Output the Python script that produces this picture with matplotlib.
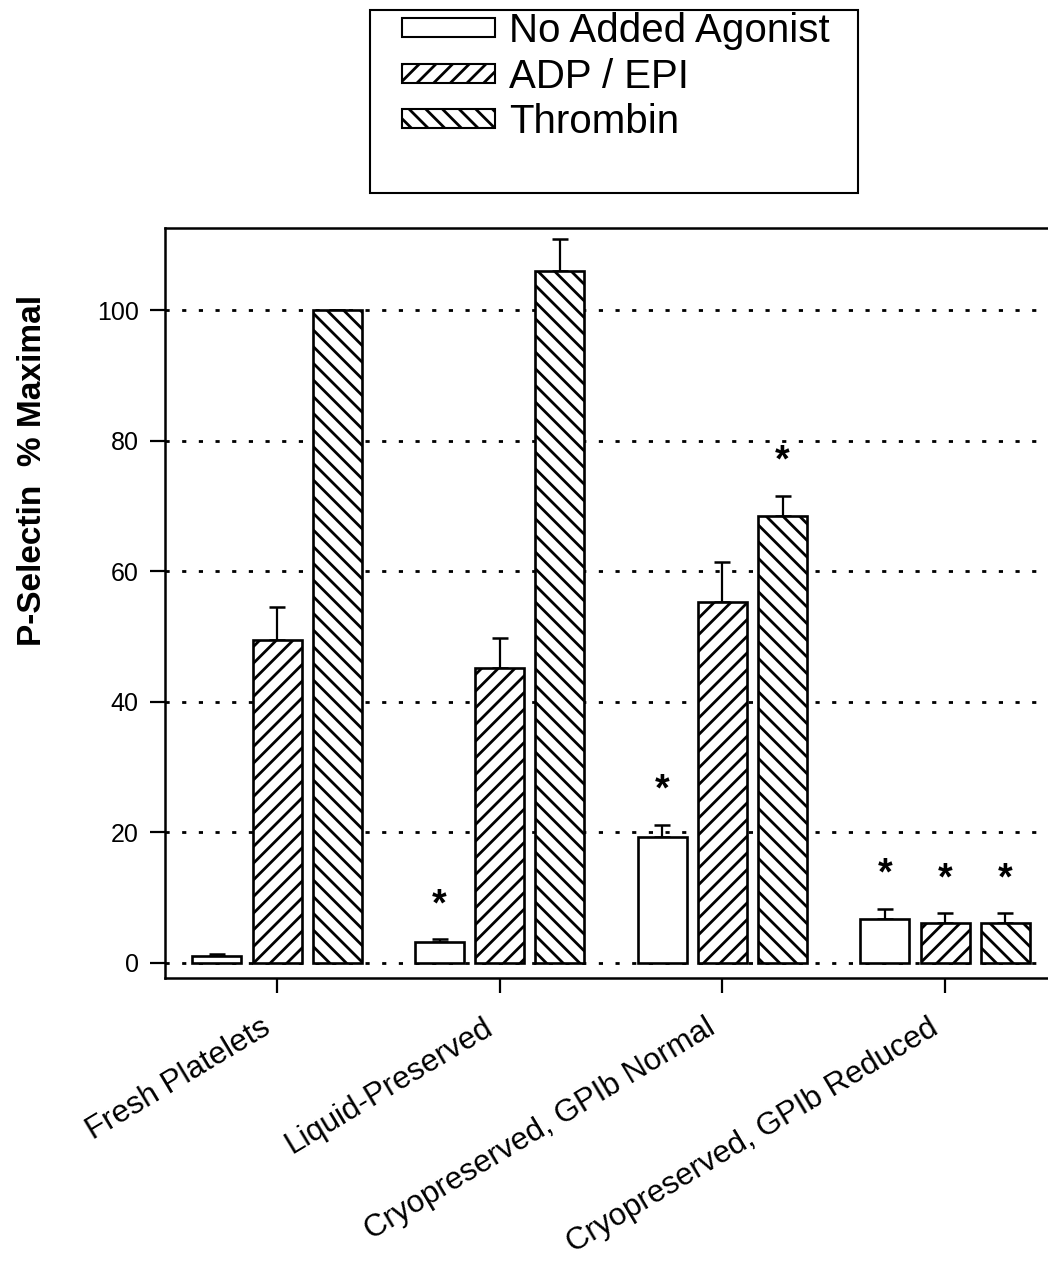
import numpy as np
import matplotlib
matplotlib.use("Agg")
import matplotlib.pyplot as plt
import matplotlib.transforms as mtransforms
from matplotlib.patches import Rectangle, Patch

plt.rcParams['font.family'] = ['Liberation Sans', 'DejaVu Sans']
plt.rcParams['hatch.linewidth'] = 2.0

# data
groups = ["Fresh Platelets", "Liquid-Preserved",
          "Cryopreserved, GPIb Normal", "Cryopreserved, GPIb Reduced"]
series = ["No Added Agonist", "ADP / EPI", "Thrombin"]
no_agonist = [1.0, 3.2, 19.3, 6.8]
adp_epi = [49.5, 45.2, 55.3, 6.1]
thrombin = [100.0, 105.9, 68.5, 6.1]
no_agonist_err = [0.4, 0.4, 1.8, 1.5]
adp_epi_err = [5.0, 4.5, 6.1, 1.5]
thrombin_err = [0.0, 4.9, 3.0, 1.5]
no_agonist_star = [False, True, True, True]
adp_epi_star = [False, False, False, True]
thrombin_star = [False, False, True, True]
yticks = [0, 20, 40, 60, 80, 100]

values = [no_agonist, adp_epi, thrombin]
errors = [no_agonist_err, adp_epi_err, thrombin_err]
stars = [no_agonist_star, adp_epi_star, thrombin_star]
hatches = ["", "//", "\\\\"]

fig = plt.figure(figsize=(10.48, 12.64), dpi=100)
ax = fig.add_axes([165 / 1048, 1 - 978 / 1264, 885 / 1048, 750 / 1264])

x = np.arange(len(groups))
width = 0.22
offsets = [-0.27, 0.0, 0.27]

for yv in yticks:
    ax.axhline(yv, color="black", lw=2, ls=(0, (1.5, 4.5)), zorder=1)

for vals, errs, st, off, h in zip(values, errors, stars, offsets, hatches):
    pos = x + off
    ax.bar(pos, vals, width, color="white", edgecolor="black", hatch=h,
           linewidth=1.9, zorder=3)
    ax.errorbar(pos, vals, yerr=[np.zeros(len(vals)), errs], fmt="none",
                ecolor="black", elinewidth=1.6, capsize=5.5, capthick=1.8, zorder=2)
    for p, v, e, s in zip(pos, vals, errs, st):
        if s:
            ax.text(p, v + e + 2.5, "*", ha="center", va="bottom",
                    fontsize=27, fontweight="bold")

ax.set_xlim(-0.503, 3.471)
ax.set_ylim(-2.3, 112.56)
ax.set_yticks(yticks)
ax.set_xticks(x)
ax.set_xticklabels(groups, rotation=31, ha="right", rotation_mode="anchor")
ax.tick_params(axis="both", length=11, width=1.6, labelsize=18, direction="out")
ax.tick_params(axis="x", pad=14, labelsize=22.5)
ax.tick_params(axis="y", pad=8)
shift = mtransforms.ScaledTranslation(-0.17, 0, fig.dpi_scale_trans)
for lab in ax.get_xticklabels():
    lab.set_transform(lab.get_transform() + shift)
for sp in ax.spines.values():
    sp.set_linewidth(1.8)

fig.text(33 / 1048, 1 - 470 / 1264, "P-Selectin  % Maximal", rotation=90,
         ha="center", va="center", fontsize=24, fontweight="bold")

handles = [Patch(facecolor="white", edgecolor="black", hatch=h, linewidth=1.5)
           for h in hatches]
fig.legend(handles, series, loc="upper left",
           bbox_to_anchor=(402 / 1048, 1 - 12 / 1264), frameon=False,
           fontsize=29, handlelength=2.3, handleheight=0.34,
           handletextpad=0.35, labelspacing=0.19, borderpad=0.0,
           borderaxespad=0.0)
fig.patches.append(Rectangle((370 / 1048, 1 - 193 / 1264), 488 / 1048, 183 / 1264,
                             transform=fig.transFigure, fill=False,
                             edgecolor="black", linewidth=1.5))

fig.savefig("out.png", dpi=100)
